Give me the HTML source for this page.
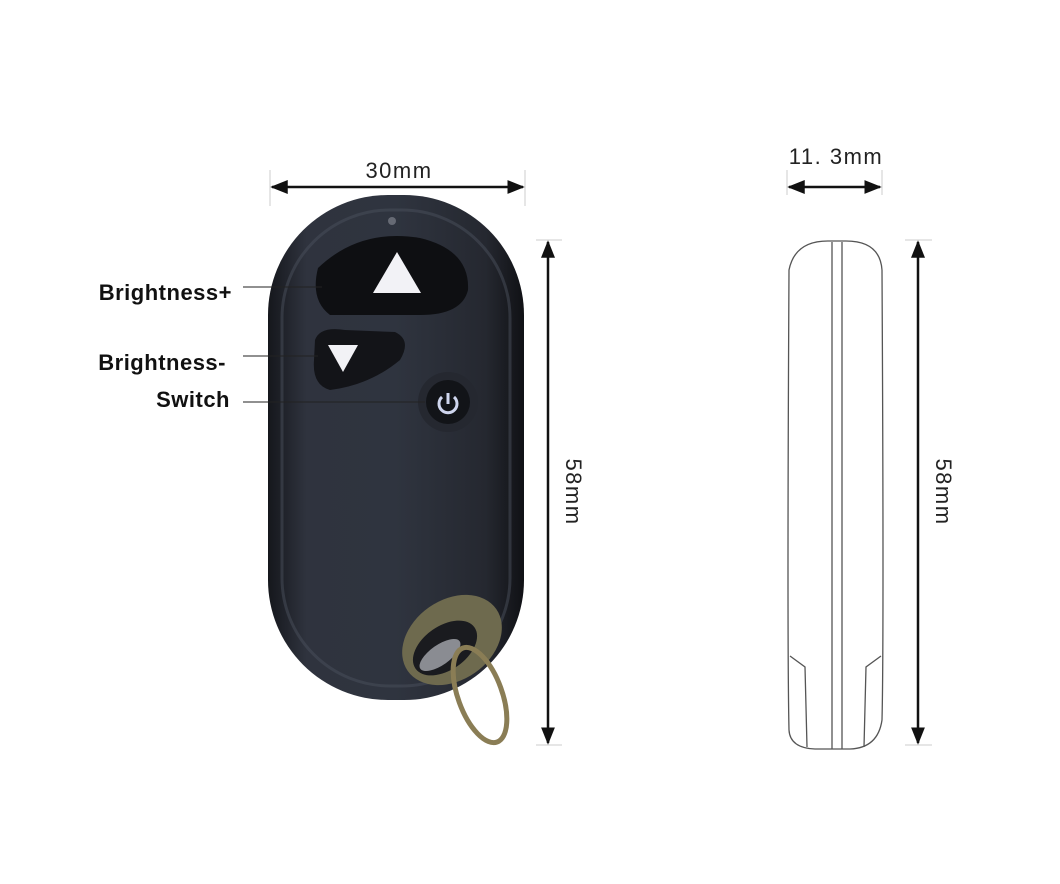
<!DOCTYPE html>
<html><head><style>body{margin:0;background:#fff}svg{display:block}</style></head><body>
<svg width="1060" height="884" viewBox="0 0 1060 884" xmlns="http://www.w3.org/2000/svg" font-family="Liberation Sans, sans-serif">
<defs>
<linearGradient id="bd" x1="0" x2="1" y1="0" y2="0">
<stop offset="0" stop-color="#15171c"/><stop offset="0.15" stop-color="#2f333e"/><stop offset="0.5" stop-color="#2f343f"/><stop offset="0.85" stop-color="#252830"/><stop offset="1" stop-color="#101115"/></linearGradient>
<marker id="a" viewBox="0 0 10 10" refX="9" refY="5" markerWidth="7" markerHeight="7" orient="auto-start-reverse"><path d="M0 1L10 5L0 9z" fill="#111"/></marker>
</defs>
<g>
<rect x="268" y="195" width="256" height="505" rx="120" fill="url(#bd)"/>
<rect x="282" y="210" width="228" height="476" rx="108" fill="none" stroke="#4a4f5c" stroke-width="3" opacity="0.5"/>
<circle cx="392" cy="221" r="4" fill="#666a74"/>
<path d="M318 268 Q360 228 420 238 Q470 250 468 290 Q462 315 420 315 L330 315 Q310 300 318 268z" fill="#0e0f12"/>
<path d="M397 252 L421 293 L373 293z" fill="#f2f2f6"/>
<path d="M315 340 Q320 326 345 330 L395 332 Q412 340 400 360 Q370 385 330 390 Q312 385 314 360z" fill="#131418"/>
<path d="M328 345 L358 345 L343 372z" fill="#f2f2f6"/>
<circle cx="448" cy="402" r="30" fill="#252830"/>
<circle cx="448" cy="402" r="22" fill="#121418"/>
<path d="M442 397 A9 9 0 1 0 454 397" fill="none" stroke="#cfd6ee" stroke-width="3"/>
<line x1="448" y1="393" x2="448" y2="404" stroke="#cfd6ee" stroke-width="3"/>
<ellipse cx="452" cy="640" rx="54" ry="40" fill="#6e6a4e" transform="rotate(-35 452 640)"/>
<ellipse cx="445" cy="648" rx="36" ry="22" fill="#1a1b1f" transform="rotate(-35 445 648)"/>
<ellipse cx="440" cy="655" rx="24" ry="10" fill="#8a8c92" transform="rotate(-35 440 655)"/>
</g>
<ellipse cx="480" cy="695" rx="22" ry="50" fill="none" stroke="#8a7d55" stroke-width="5" transform="rotate(-20 480 695)"/>
<g font-weight="bold" font-size="22" fill="#111" text-anchor="end" letter-spacing="0.5">
<text x="232" y="300">Brightness+</text>
<text x="226" y="370">Brightness-</text>
<text x="230" y="407">Switch</text>
</g>
<g stroke="#222" stroke-width="1">
<line x1="243" y1="287" x2="322" y2="287"/>
<line x1="243" y1="356" x2="318" y2="356"/>
<line x1="243" y1="402" x2="425" y2="402"/>
</g>
<g stroke="#ccc" stroke-width="1">
<line x1="270" y1="170" x2="270" y2="206"/><line x1="525" y1="170" x2="525" y2="206"/>
<line x1="536" y1="240" x2="562" y2="240"/><line x1="536" y1="745" x2="562" y2="745"/>
<line x1="787" y1="170" x2="787" y2="195"/><line x1="882" y1="170" x2="882" y2="195"/>
<line x1="905" y1="240" x2="932" y2="240"/><line x1="905" y1="745" x2="932" y2="745"/>
</g>
<g stroke="#111" stroke-width="2.5">
<line x1="272" y1="187" x2="523" y2="187" marker-start="url(#a)" marker-end="url(#a)"/>
<line x1="548" y1="242" x2="548" y2="743" marker-start="url(#a)" marker-end="url(#a)"/>
<line x1="789" y1="187" x2="880" y2="187" marker-start="url(#a)" marker-end="url(#a)"/>
<line x1="918" y1="242" x2="918" y2="743" marker-start="url(#a)" marker-end="url(#a)"/>
</g>
<g font-size="22" fill="#222" text-anchor="middle" letter-spacing="1.5">
<text x="399" y="178">30mm</text>
<text x="836" y="164">11. 3mm</text>
<text transform="translate(566 492) rotate(90)">58mm</text>
<text transform="translate(936 492) rotate(90)">58mm</text>
</g>
<g fill="none" stroke="#555" stroke-width="1.3">
<path d="M789 730 Q787 640 789 270 Q795 240 830 241 L846 241 Q880 241 882 270 Q884 640 882 720 Q878 748 850 749 L815 749 Q790 748 789 730z"/>
<line x1="832" y1="242" x2="832" y2="749"/><line x1="842" y1="242" x2="842" y2="749"/>
<path d="M790 656 L805 667 L807 747"/>
<path d="M881 656 L866 667 L864 747"/>
</g>
</svg>
</body></html>
